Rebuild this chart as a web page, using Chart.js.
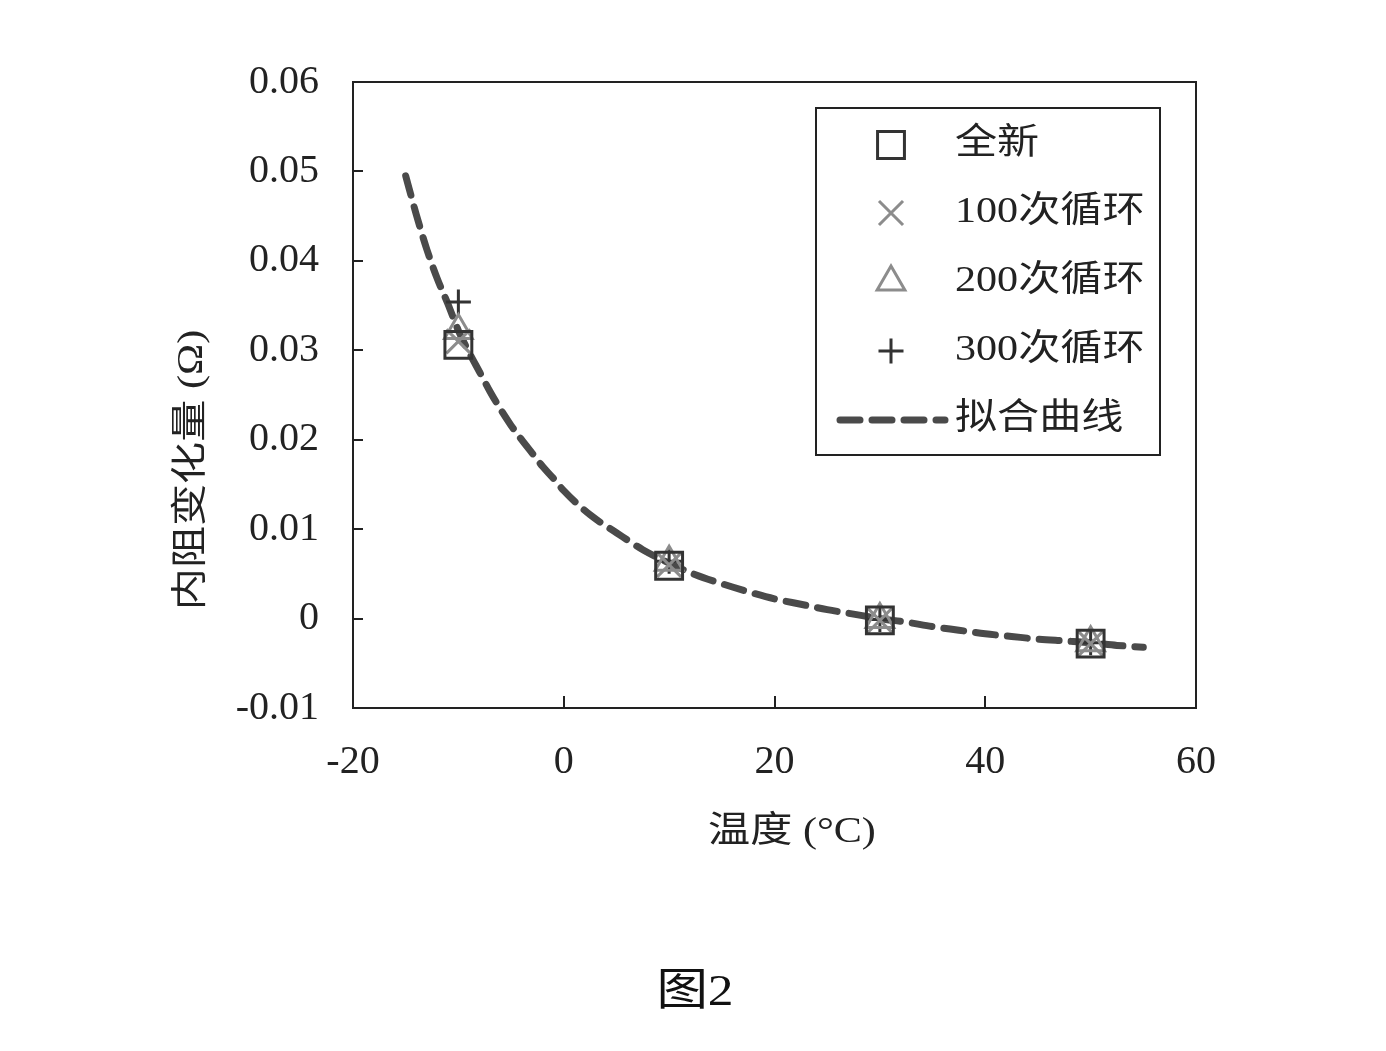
<!DOCTYPE html>
<html>
<head>
<meta charset="utf-8">
<script src="https://cdn.jsdelivr.net/npm/chart.js@4/dist/chart.umd.min.js"></script>
<style>
  html, body { margin: 0; padding: 0; background: #fff; }
  canvas { display: block; }
</style>
</head>
<body>
<canvas id="chart" width="1386" height="1051"></canvas>
<script>
// 数据
const xTicks = [-20, 0, 20, 40, 60];
const yTicks = [-0.01, 0, 0.01, 0.02, 0.03, 0.04, 0.05, 0.06];

const temps = [-10, 10, 30, 50];
const newCell = [0.0306, 0.0059, -0.0002, -0.0028];
const cycle100 = [0.0310, 0.0060, -0.0002, -0.0028];
const cycle200 = [0.0322, 0.0063, -0.0001, -0.0027];
const cycle300 = [0.0354, 0.0064, -0.0001, -0.0027];

const fitX = [-15, -14, -13, -12, -11, -10, -9, -8, -7, -6, -5, -4, -3, -2, -1, 0,
              2.5, 5, 7.5, 10, 12.5, 15, 17.5, 20, 22.5, 25, 27.5, 30, 32.5, 35,
              37.5, 40, 42.5, 45, 47.5, 50, 52.5, 55];
const fitY = [0.0495, 0.0452, 0.0413, 0.0380, 0.0352, 0.0322, 0.0298, 0.0276, 0.0254, 0.0234,
              0.0216, 0.0200, 0.0185, 0.0170, 0.0157, 0.0143, 0.0116, 0.0096, 0.0077, 0.0062,
              0.0049, 0.0039, 0.0030, 0.0022, 0.0016, 0.0010, 0.0005, 0.0000, -0.0004, -0.0009,
              -0.0013, -0.0017, -0.0020, -0.0023, -0.0025, -0.0027, -0.0030, -0.0032];

const labels = ["全新", "100次循环", "200次循环", "300次循环", "拟合曲线"];

const serif = "'Liberation Serif', 'Noto Sans CJK SC', serif";
const pts = (ys) => temps.map((t, i) => ({ x: t, y: ys[i] }));

// 图表区域
const AREA = { left: 353, top: 82, right: 1196, bottom: 708 };
const STRETCH = 1.17;

// 横向拉宽的文字
function wideText(ctx, text, x, y, align, rotate) {
    ctx.save();
    ctx.translate(x, y);
    if (rotate) ctx.rotate(-Math.PI / 2);
    ctx.scale(STRETCH, 1);
    ctx.textAlign = align;
    ctx.textBaseline = "middle";
    ctx.fillText(text, 0, 0);
    ctx.restore();
}

const framePlugin = {
    id: "frame",
    afterDraw(chart) {
        const ctx = chart.ctx;
        const xs = chart.scales.x, ys = chart.scales.y;
        const ca = chart.chartArea;
        ctx.save();

        // 边框
        ctx.strokeStyle = "#222";
        ctx.lineWidth = 2;
        ctx.strokeRect(ca.left, ca.top, ca.right - ca.left, ca.bottom - ca.top);

        // 向内刻度
        ctx.beginPath();
        yTicks.forEach(v => {
            const py = Math.round(ys.getPixelForValue(v));
            ctx.moveTo(ca.left, py);
            ctx.lineTo(ca.left + 10, py);
        });
        xTicks.forEach(v => {
            const px = Math.round(xs.getPixelForValue(v));
            ctx.moveTo(px, ca.bottom);
            ctx.lineTo(px, ca.bottom - 12);
        });
        ctx.stroke();

        // 坐标轴标题
        ctx.fillStyle = "#222";
        ctx.font = "36px " + serif;
        wideText(ctx, "温度 (°C)", 792, 833, "center", false);
        wideText(ctx, "内阻变化量 (Ω)", 193, 470, "center", true);

        // 图号
        ctx.font = "44px " + serif;
        ctx.fillStyle = "#111";
        wideText(ctx, "图2", 695, 993, "center", false);

        // 图例
        ctx.fillStyle = "#fff";
        ctx.fillRect(816, 108, 344, 347);
        ctx.strokeStyle = "#222";
        ctx.lineWidth = 2;
        ctx.strokeRect(816, 108, 344, 347);

        const rows = [145, 213, 282, 351, 420];
        chart.data.datasets.forEach((ds, i) => {
            const y = rows[i];
            if (i < 4) {
                ctx.save();
                ctx.strokeStyle = ds.borderColor;
                ctx.fillStyle = "rgba(0,0,0,0)";
                ctx.lineWidth = ds.borderWidth;
                Chart.helpers.drawPoint(ctx, {
                    pointStyle: ds.pointStyle,
                    radius: ds.pointRadius,
                    rotation: 0,
                    borderWidth: ds.borderWidth
                }, 891, y);
                ctx.restore();
            } else {
                ctx.save();
                ctx.strokeStyle = ds.borderColor;
                ctx.lineWidth = ds.borderWidth;
                ctx.lineCap = "round";
                ctx.setLineDash(ds.borderDash);
                ctx.beginPath();
                ctx.moveTo(840, y);
                ctx.lineTo(945, y);
                ctx.stroke();
                ctx.restore();
            }
            ctx.fillStyle = "#222";
            ctx.font = "36px " + serif;
            wideText(ctx, labels[i], 955, y, "left", false);
        });

        ctx.restore();
    }
};

new Chart(document.getElementById("chart"), {
    type: "scatter",
    data: {
        datasets: [
            {
                label: labels[0], data: pts(newCell),
                pointStyle: "rect", pointRadius: 19, borderWidth: 3,
                borderColor: "#333", backgroundColor: "rgba(0,0,0,0)"
            },
            {
                label: labels[1], data: pts(cycle100),
                pointStyle: "crossRot", pointRadius: 17, borderWidth: 3,
                borderColor: "#8c8c8c", backgroundColor: "rgba(0,0,0,0)"
            },
            {
                label: labels[2], data: pts(cycle200),
                pointStyle: "triangle", pointRadius: 16, borderWidth: 3,
                borderColor: "#8c8c8c", backgroundColor: "rgba(0,0,0,0)"
            },
            {
                label: labels[3], data: pts(cycle300),
                pointStyle: "cross", pointRadius: 12.5, borderWidth: 3,
                borderColor: "#333", backgroundColor: "rgba(0,0,0,0)"
            },
            {
                type: "line",
                label: labels[4],
                data: fitX.map((x, i) => ({ x: x, y: fitY[i] })),
                showLine: true, pointRadius: 0,
                borderColor: "#4a4a4a", borderWidth: 7,
                borderDash: [20, 12], borderCapStyle: "round",
                cubicInterpolationMode: "monotone", fill: false
            }
        ]
    },
    options: {
        responsive: false,
        animation: false,
        layout: { padding: { left: 0, top: AREA.top, right: 1386 - AREA.right, bottom: 0 } },
        plugins: { legend: { display: false }, tooltip: { enabled: false } },
        scales: {
            x: {
                type: "linear", min: -20, max: 60,
                afterBuildTicks: s => { s.ticks = xTicks.map(v => ({ value: v })); },
                afterFit: s => { s.height = 1051 - AREA.bottom; },
                grid: { display: false, drawTicks: false },
                border: { display: false },
                ticks: {
                    color: "#222", padding: 30,
                    font: { family: serif, size: 40 },
                    maxRotation: 0,
                    callback: v => String(v)
                }
            },
            y: {
                type: "linear", min: -0.01, max: 0.06,
                afterBuildTicks: s => { s.ticks = yTicks.map(v => ({ value: v })); },
                afterFit: s => { s.width = AREA.left; },
                grid: { display: false, drawTicks: false },
                border: { display: false },
                ticks: {
                    color: "#222", padding: 34,
                    font: { family: serif, size: 40 },
                    callback: v => {
                        const r = Math.round(v * 100) / 100;
                        return r === 0 ? "0" : r.toFixed(2);
                    }
                }
            }
        }
    },
    plugins: [framePlugin]
});
</script>
</body>
</html>
